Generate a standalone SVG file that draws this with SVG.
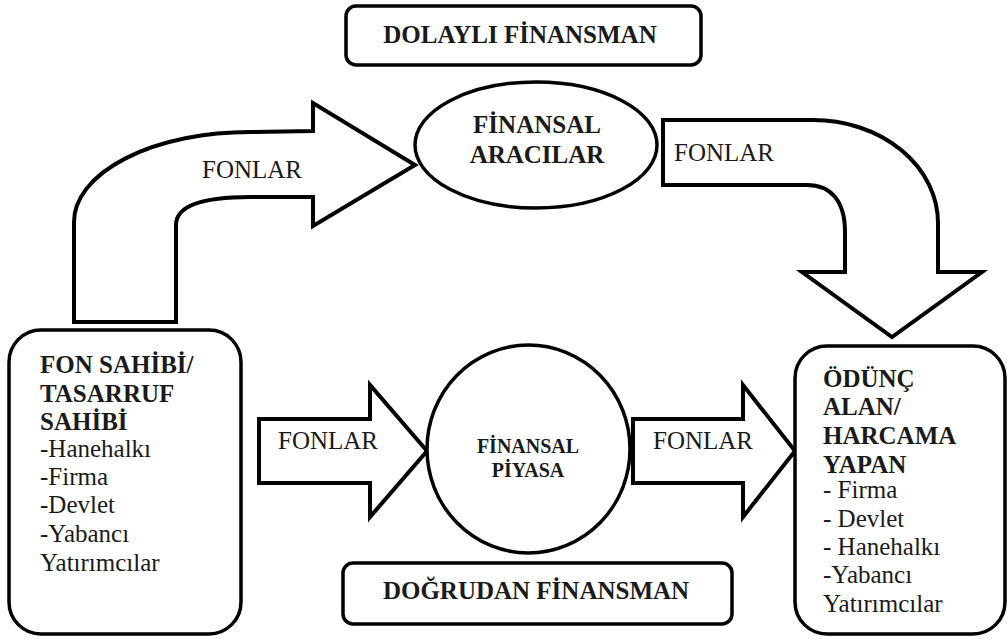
<svg xmlns="http://www.w3.org/2000/svg" width="1007" height="639" viewBox="0 0 1007 639">
<style>
.s{fill:#fff;stroke:#000;stroke-width:4;stroke-linejoin:miter}
.b{fill:#fff;stroke:#000;stroke-width:3.5}
.t{font-family:'Liberation Serif','Times New Roman',serif;font-size:25px;fill:#1a1a1a}
.bo{font-weight:bold}
.c{text-anchor:middle}
.sm{font-size:20px}
</style>
<rect width="1007" height="639" fill="#fff"/>
<g id="connectors">
<path class="s" d="M74 322 L74 222 A176 90 0 0 1 250 132 L313 131 L313 103 L415 165 L313 226 L313 197 L250 197 C205 197 176 205 176 225 L176 322 Z"/>
<path class="s" d="M663 120 L813 120 A125 103 0 0 1 938 223 L938 272 L982 272 L892 337 L802 272 L845 272 L845 232 C845 200 830 185 807 185 L663 185 Z"/>
<path class="s" d="M259 419 L370 419 L370 385 L427 451 L370 517 L370 483 L259 483 Z"/>
<path class="s" d="M633 419 L743 419 L743 385 L795 451 L743 517 L743 483 L633 483 Z"/>
<text class="t" x="202" y="178">FONLAR</text>
<text class="t" x="674" y="161">FONLAR</text>
<text class="t" x="278" y="449">FONLAR</text>
<text class="t" x="653" y="449">FONLAR</text>
</g>
<g id="dolayli">
<rect class="b" x="346" y="6" width="355" height="59" rx="10"/>
<text class="t bo c" x="520" y="43">DOLAYLI FİNANSMAN</text>
</g>
<g id="aracilar">
<ellipse class="b" cx="536" cy="145" rx="121" ry="63"/>
<text class="t bo c" x="537" y="133">FİNANSAL</text>
<text class="t bo c" x="537" y="163">ARACILAR</text>
</g>
<g id="piyasa">
<ellipse class="b" cx="528.5" cy="449" rx="101.5" ry="104"/>
<text class="t bo c sm" x="528" y="453">FİNANSAL</text>
<text class="t bo c sm" x="528" y="477">PİYASA</text>
</g>
<g id="dogrudan">
<rect class="b" x="343" y="563" width="389" height="61" rx="10"/>
<text class="t bo c" x="536" y="599">DOĞRUDAN FİNANSMAN</text>
</g>
<g id="fonsahibi">
<rect class="b" x="9" y="330" width="232" height="304" rx="32"/>
<text class="t">
<tspan class="bo" x="40" y="373">FON SAHİBİ/</tspan>
<tspan class="bo" x="40" y="402">TASARRUF</tspan>
<tspan class="bo" x="40" y="430">SAHİBİ</tspan>
<tspan x="40" y="457">-Hanehalkı</tspan>
<tspan x="40" y="485">-Firma</tspan>
<tspan x="40" y="513">-Devlet</tspan>
<tspan x="40" y="542">-Yabancı</tspan>
<tspan x="40" y="571">Yatırımcılar</tspan>
</text>
</g>
<g id="odunc">
<rect class="b" x="795" y="346" width="210" height="288" rx="32"/>
<text class="t">
<tspan class="bo" x="823" y="387">ÖDÜNÇ</tspan>
<tspan class="bo" x="823" y="415">ALAN/</tspan>
<tspan class="bo" x="823" y="444">HARCAMA</tspan>
<tspan class="bo" x="823" y="473">YAPAN</tspan>
<tspan x="823" y="498">- Firma</tspan>
<tspan x="823" y="527">- Devlet</tspan>
<tspan x="823" y="555">- Hanehalkı</tspan>
<tspan x="823" y="583">-Yabancı</tspan>
<tspan x="823" y="612">Yatırımcılar</tspan>
</text>
</g>
</svg>
